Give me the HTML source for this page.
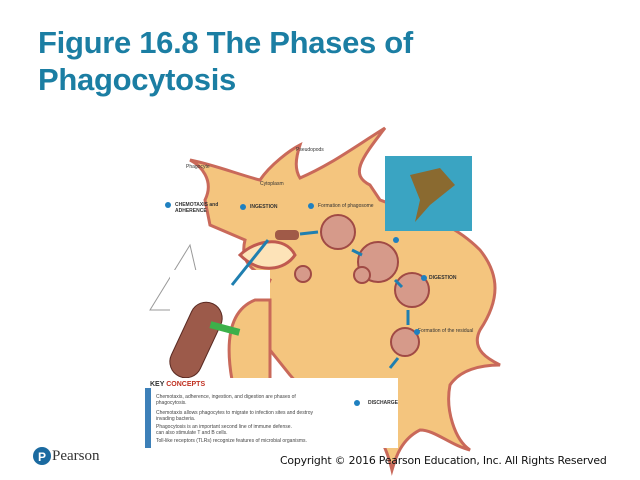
<!DOCTYPE html>
<html><head><meta charset="utf-8"><style>
body{margin:0;width:640px;height:480px;background:#fff;overflow:hidden;position:relative;font-family:"Liberation Sans",sans-serif}
.t{position:absolute;left:38px;top:24px;color:#1b7ea3;font-weight:bold;font-size:31px;line-height:37px;letter-spacing:-0.3px}
.c{position:absolute;left:280px;top:454px;font-size:10.9px;color:#111;font-family:"DejaVu Sans",sans-serif;letter-spacing:-0.2px;white-space:nowrap}
.p{position:absolute;left:52px;top:448px;font-family:"Liberation Serif",serif;font-size:15px;color:#333}
</style></head><body>
<div class="t">Figure 16.8 The Phases of<br>Phagocytosis</div>
<svg width="640" height="480" style="position:absolute;left:0;top:0">
<path d="M205,200 C215,180 200,165 190,160 C215,165 240,175 260,180 C270,165 290,150 300,145 C295,160 295,170 300,178 C330,165 350,150 385,128 C360,160 350,175 370,185 L380,200 C420,215 450,220 480,250 C500,275 500,300 480,330 C470,350 490,360 500,365 C480,365 460,370 450,385 C445,410 455,440 470,450 C450,445 435,430 420,430 C400,440 395,460 392,470 C385,440 370,420 360,410 C330,400 310,410 300,425 C305,400 300,385 290,375 L270,350 C260,330 260,300 270,280 C250,270 240,260 245,240 L210,225 Z" fill="#f4c57e" stroke="#c9695a" stroke-width="3"/>
<path d="M240,255 C255,240 285,235 295,255 C285,270 260,275 240,255 Z" fill="#fde3b8" stroke="#c05a50" stroke-width="3"/>
<g fill="#d69a8a" stroke="#a04a45" stroke-width="2">
<circle cx="338" cy="232" r="17"/><circle cx="378" cy="262" r="20"/><circle cx="362" cy="275" r="8"/>
<circle cx="303" cy="274" r="8"/><circle cx="412" cy="290" r="17"/><circle cx="405" cy="342" r="14"/>
</g>
<rect x="385" y="156" width="87" height="75" fill="#3aa4c2"/>
<path d="M410,175 L440,168 L455,185 L430,205 L415,222 L420,200 Z" fill="#8a6a30"/>
<polygon points="150,310 190,245 205,310" fill="#fff" stroke="#999"/>
<rect x="170" y="270" width="100" height="110" fill="#fff"/>
<path d="M232,380 C225,340 230,310 255,300 L270,300 L270,380 Z" fill="#f4c57e" stroke="#c9695a" stroke-width="3"/>
<rect x="180" y="300" width="32" height="80" rx="16" transform="rotate(25 196 340)" fill="#9c5a4a" stroke="#5a2a22"/>
<rect x="210" y="325" width="30" height="7" fill="#3cb04a" transform="rotate(15 225 328)"/>
<rect x="275" y="230" width="24" height="10" rx="4" fill="#a05a48"/>
<g stroke="#1f7fb0" stroke-width="3" fill="none"><path d="M232,285 L268,240"/><path d="M300,234 L318,232"/><path d="M352,250 L362,255"/><path d="M395,280 L402,287"/><path d="M408,310 L408,325"/><path d="M398,358 L390,368"/></g>
<rect x="145" y="378" width="253" height="70" fill="#fff"/>
<rect x="145" y="388" width="6" height="60" fill="#3d80b8"/>
<text x="150" y="386" font-size="7" font-weight="bold" fill="#333">KEY <tspan fill="#c03020">CONCEPTS</tspan></text>
<g font-size="5" fill="#444"><text x="156" y="398">Chemotaxis, adherence, ingestion, and digestion are phases of</text><text x="156" y="404">phagocytosis.</text><text x="156" y="414">Chemotaxis allows phagocytes to migrate to infection sites and destroy</text><text x="156" y="420">invading bacteria.</text><text x="156" y="428">Phagocytosis is an important second line of immune defense.</text><text x="156" y="434">can also stimulate T and B cells.</text><text x="156" y="442">Toll-like receptors (TLRs) recognize features of microbial organisms.</text></g>
<g font-size="5" fill="#333"><text x="186" y="168">Phagocyte</text><text x="260" y="185">Cytoplasm</text><text x="296" y="151">Pseudopods</text>
<text x="175" y="206" font-weight="bold">CHEMOTAXIS and</text><text x="175" y="212" font-weight="bold">ADHERENCE</text><text x="250" y="208" font-weight="bold">INGESTION</text><text x="318" y="207">Formation of phagosome</text><text x="429" y="279" font-weight="bold">DIGESTION</text><text x="418" y="332">Formation of the residual</text><text x="368" y="404" font-weight="bold">DISCHARGE</text></g>
<g fill="#1f80c0"><circle cx="168" cy="205" r="3"/><circle cx="243" cy="207" r="3"/><circle cx="311" cy="206" r="3"/><circle cx="396" cy="240" r="3"/><circle cx="424" cy="278" r="3"/><circle cx="417" cy="332" r="3"/><circle cx="357" cy="403" r="3"/></g>
<circle cx="42" cy="456" r="9" fill="#1b6aa0"/><text x="38" y="461" font-size="12" fill="#fff" font-weight="bold">P</text>
</svg>
<div class="p">Pearson</div>
<div class="c">Copyright © 2016 Pearson Education, Inc. All Rights Reserved</div>
</body></html>
